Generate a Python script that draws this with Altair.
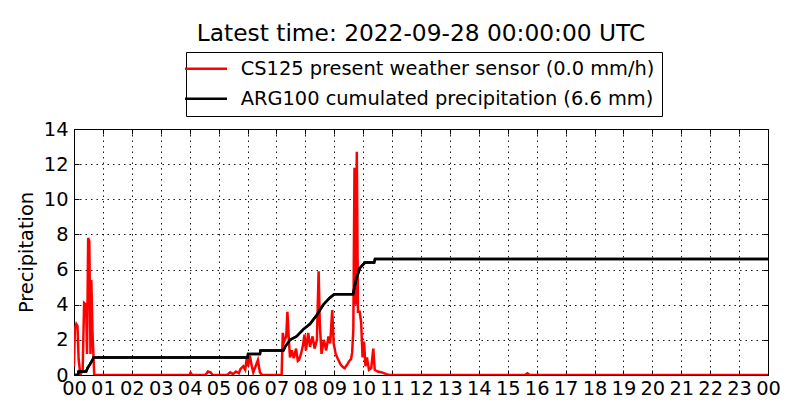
import altair as alt
import pandas as pd

# CS125 present weather sensor intensity (mm/h), time in hours since 00 UTC
red_t = [0.0, 0.03, 0.08, 0.12, 0.16, 0.22, 0.3, 0.35, 0.42, 0.45, 0.49, 0.53, 0.57, 0.6, 0.64, 0.7,
         4.0, 4.03, 4.08, 4.55, 4.63, 4.72, 4.8,
         5.3, 5.4, 5.5, 5.6, 5.7, 5.76, 5.85, 5.92, 5.97, 6.02, 6.08, 6.15, 6.2, 6.28, 6.36, 6.43, 6.5,
         7.18, 7.22, 7.27, 7.34, 7.38, 7.43, 7.47, 7.53, 7.6, 7.68, 7.74, 7.78, 7.85, 7.92, 7.97,
         8.02, 8.1, 8.16, 8.25, 8.32, 8.4, 8.46, 8.5, 8.56, 8.64, 8.72, 8.8, 8.86, 8.93, 8.98,
         9.05, 9.13, 9.22, 9.3, 9.36, 9.45, 9.52, 9.58, 9.62, 9.66, 9.7, 9.73, 9.78, 9.82, 9.88, 9.93, 9.98,
         10.03, 10.08, 10.13, 10.2, 10.28, 10.35, 10.4, 10.5, 10.65, 10.8, 10.9,
         15.6, 15.68, 15.76, 24.0]
red_v = [0.5, 2.6, 2.9, 2.8, 0.9, 0.0, 0.3, 4.1, 4.0, 1.2, 7.8, 7.6, 1.2, 5.4, 2.4, 0.0,
         0.0, 0.13, 0.0, 0.0, 0.2, 0.15, 0.0,
         0.0, 0.15, 0.05, 0.2, 0.1, 0.35, 0.5, 0.3, 0.9, 0.5, 1.1, 0.5, 0.15, 0.5, 0.85, 0.15, 0.0,
         0.0, 2.4, 1.9, 2.2, 3.6, 2.0, 1.0, 1.4, 0.95, 1.5, 0.8, 0.85, 1.2, 1.7, 2.3,
         1.4, 2.4, 1.6, 2.2, 1.5, 2.0, 5.9, 2.9, 1.2, 2.0, 1.4, 2.2, 1.8, 3.7, 1.8,
         1.2, 0.9, 0.6, 0.45, 0.38, 0.6, 0.8, 0.9, 1.3, 2.6, 11.8, 4.0, 12.7, 3.6, 3.6, 3.0, 1.0,
         1.9, 0.5, 1.0, 0.3, 0.4, 1.5, 0.3, 0.2, 0.15, 0.05, 0.0,
         0.0, 0.1, 0.0, 0.0]

# ARG100 cumulated precipitation (mm)
black_t = [0.0, 0.13, 0.16, 0.42, 0.47, 0.55, 0.62, 0.68, 6.0, 6.02, 6.43, 6.45, 7.24, 7.3, 7.47,
           7.7, 7.93, 8.16, 8.39, 8.62, 8.85, 9.0, 9.65, 9.75, 9.89, 10.06, 10.38, 10.41, 24.0]
black_v = [0.0, 0.0, 0.2, 0.2, 0.4, 0.6, 0.8, 1.0, 1.0, 1.2, 1.2, 1.4, 1.4, 1.6, 2.0,
           2.2, 2.6, 2.9, 3.4, 4.0, 4.4, 4.6, 4.6, 5.4, 6.1, 6.4, 6.4, 6.6, 6.6]

series_names = ["CS125 present weather sensor (0.0 mm/h)",
                "ARG100 cumulated precipitation (6.6 mm)"]
series_colors = ["#ff0000", "#000000"]
hour_ticks = list(range(0, 25))
y_ticks = [0, 2, 4, 6, 8, 10, 12, 14]
title_text = "Latest time: 2022-09-28 00:00:00 UTC"

red_df = pd.DataFrame({"t": red_t, "v": red_v, "series": series_names[0]})
black_df = pd.DataFrame({"t": black_t, "v": black_v, "series": series_names[1]})

FONT = "DejaVu Sans"
FS = 19.4

color = alt.Color(
    "series:N",
    scale=alt.Scale(domain=series_names, range=series_colors),
    legend=alt.Legend(
        title=None, orient="none", legendX=112, legendY=-77,
        direction="vertical",
        strokeColor="black", fillColor="white", padding=7, cornerRadius=0,
        symbolType="M-1,0L5,0", symbolSize=196, symbolStrokeWidth=2.5,
        symbolOffset=-10.7,
        labelFontSize=FS, labelFont=FONT, labelColor="black",
        labelOffset=39, rowPadding=9, labelLimit=0,
    ),
)

xscale = alt.Scale(domain=[0, 24], nice=False, zero=False)
yscale = alt.Scale(domain=[0, 14], nice=False)

x_main = alt.X("t:Q", scale=xscale, axis=alt.Axis(
    values=hour_ticks, title=None,
    labelExpr="(datum.value % 24) < 10 ? '0' + (datum.value % 24) : '' + (datum.value % 24)",
    labelFontSize=FS, labelPadding=4, labelFlush=False, labelOverlap=False, ticks=False,
    grid=True))
y_main = alt.Y("v:Q", scale=yscale, axis=alt.Axis(
    values=y_ticks, title="Precipitation", labelFontSize=FS,
    titleFontSize=FS, titleFontWeight="normal", titlePadding=7,
    labelPadding=6, labelFlush=False, ticks=False, grid=True))


def tick_axis(orient, values):
    # ticks drawn inside the frame, as in the reference
    return alt.Axis(orient=orient, values=values, offset=-5, ticks=True, tickSize=5,
                    tickColor="black", tickWidth=1, labels=False, domain=False,
                    grid=False, title=None)


x_in_b = alt.X("t:Q", scale=xscale, axis=tick_axis("bottom", hour_ticks))
y_in_l = alt.Y("v:Q", scale=yscale, axis=tick_axis("left", y_ticks))
x_in_t = alt.X("t:Q", scale=xscale, axis=tick_axis("top", hour_ticks))
y_in_r = alt.Y("v:Q", scale=yscale, axis=tick_axis("right", y_ticks))

red = alt.Chart(red_df).mark_line(strokeWidth=2.5, clip=True).encode(
    x=x_main, y=y_main, color=color)
black = alt.Chart(black_df).mark_line(strokeWidth=2.5, clip=True).encode(
    x=x_in_b, y=y_in_l, color=color)
black_top = alt.Chart(black_df).mark_line(strokeWidth=2.5, clip=True).encode(
    x=x_in_t, y=y_in_r, color=color)

chart = alt.layer(red, black, black_top).resolve_axis(
    x="independent", y="independent"
).properties(
    width=694, height=246,
    background="white",
    autosize=alt.AutoSizeParams(type="none"),
    padding={"left": 66, "top": 121, "right": 24, "bottom": 37},
    title=alt.TitleParams(text=title_text, fontSize=23.3, font=FONT, fontWeight="normal",
                          color="black", anchor="middle", offset=5),
).configure_view(
    stroke="black", strokeWidth=1
).configure_axis(
    labelFont=FONT, titleFont=FONT, labelColor="black", titleColor="black",
    domainColor="black", domainWidth=1,
    gridColor="black", gridDash=[1.5, 4], gridWidth=1, gridOpacity=0.9,
)

chart.save("out.html", embed_options={"renderer": "svg", "actions": False})
